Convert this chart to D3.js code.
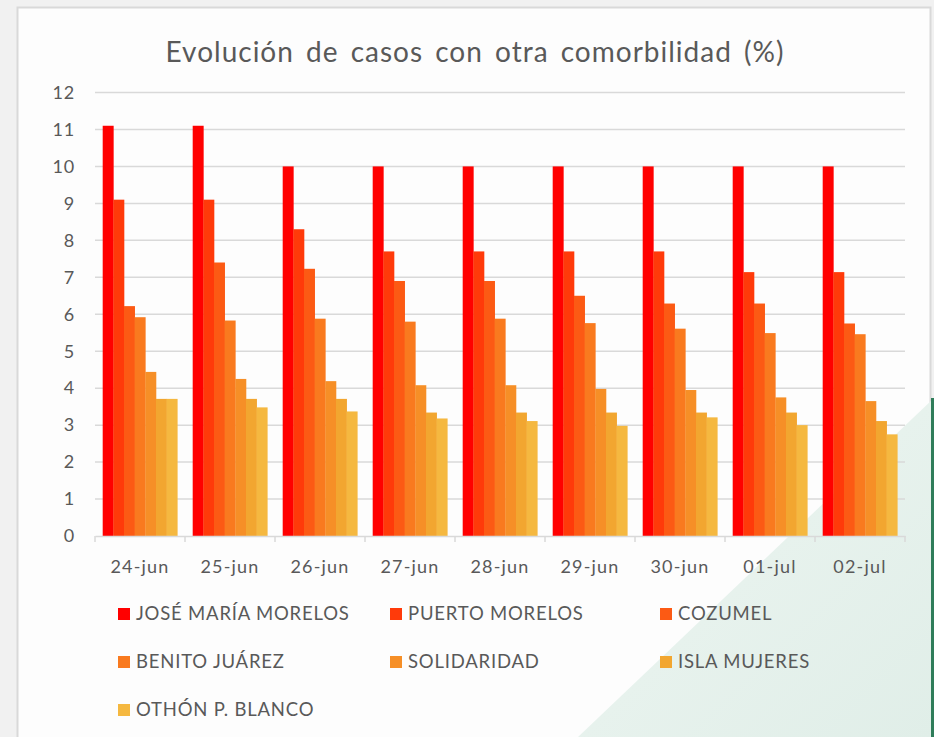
<!DOCTYPE html>
<html><head><meta charset="utf-8">
<script src="https://cdn.jsdelivr.net/npm/d3@7"></script>
<style>
html,body{margin:0;padding:0;background:#f1f1f1;}
svg{display:block;}
</style></head>
<body>
<svg id="c" width="934" height="737"></svg>
<script>
const dates = ["24-jun","25-jun","26-jun","27-jun","28-jun","29-jun","30-jun","01-jul","02-jul"];
const seriesNames = ["JOSÉ MARÍA MORELOS","PUERTO MORELOS","COZUMEL","BENITO JUÁREZ","SOLIDARIDAD","ISLA MUJERES","OTHÓN P. BLANCO"];
const seriesColors = ["#FF0000","#FF3A0A","#FC5A14","#F97A1F","#F68F27","#F2A630","#F5B840"];
const joseMariaMorelos = [11.1,11.1,10,10,10,10,10,10,10];
const puertoMorelos    = [9.1,9.1,8.3,7.7,7.7,7.7,7.7,7.14,7.14];
const cozumel          = [6.22,7.4,7.23,6.9,6.9,6.5,6.29,6.29,5.75];
const benitoJuarez     = [5.92,5.83,5.88,5.8,5.88,5.76,5.61,5.49,5.46];
const solidaridad      = [4.44,4.25,4.19,4.08,4.08,3.98,3.95,3.75,3.65];
const islaMujeres      = [3.71,3.71,3.71,3.34,3.34,3.34,3.34,3.34,3.11];
const othonPBlanco     = [3.71,3.48,3.37,3.18,3.11,2.98,3.21,3.0,2.75];
const yTicks = [0,1,2,3,4,5,6,7,8,9,10,11,12];
const values = [joseMariaMorelos,puertoMorelos,cozumel,benitoJuarez,solidaridad,islaMujeres,othonPBlanco];

(function(){
const svg = d3.select("#c");
const font = "Lato, 'Open Sans', sans-serif";

svg.append("rect").attr("x",0).attr("y",0).attr("width",934).attr("height",737).attr("fill","#f1f1f1");
svg.append("rect").attr("x",17.5).attr("y",7.5).attr("width",913).attr("height",740)
  .attr("fill","#fdfdfd").attr("stroke","#d9d9d9").attr("stroke-width",2);
const defs = svg.append("defs");
const gr = defs.append("linearGradient").attr("id","gg").attr("x1","0").attr("y1","0").attr("x2","1").attr("y2","1");
gr.append("stop").attr("offset","0").attr("stop-color","#eef6f2");
gr.append("stop").attr("offset","1").attr("stop-color","#e0eee8");
svg.append("path").attr("d","M934,398 L934,737 L578,737 Z").attr("fill","url(#gg)");
svg.append("rect").attr("x",931).attr("y",398).attr("width",3).attr("height",339).attr("fill","#2f7d5a");

const pLeft=95, pRight=905, pTop=92.5, pBottom=536;
const x0 = d3.scaleBand().domain(dates).range([pLeft,pRight]).padding(0);
const x1 = d3.scaleBand().domain(seriesNames).range([7.7, x0.bandwidth()-7.7]).padding(0);
const y = d3.scaleLinear().domain([0,12]).range([pBottom,pTop]);

svg.append("g").selectAll("line").data(yTicks.filter(d=>d>0)).join("line")
  .attr("x1",pLeft).attr("x2",pRight).attr("y1",d=>y(d)).attr("y2",d=>y(d))
  .attr("stroke","#d9d9d9").attr("stroke-width",1.5);

svg.append("g").selectAll("text").data(yTicks).join("text")
  .attr("x",75).attr("y",d=>y(d)).attr("dy","0.35em").attr("text-anchor","end")
  .attr("font-family",font).attr("font-size",18).attr("letter-spacing",0.8)
  .attr("fill","#595959").text(d=>d);

const groups = svg.append("g").selectAll("g").data(dates).join("g")
  .attr("transform",d=>`translate(${x0(d)},0)`);
groups.selectAll("rect").data((d,i)=>seriesNames.map((s,j)=>({s,j,v:values[j][i]}))).join("rect")
  .attr("x",d=>x1(d.s)).attr("width",x1.bandwidth()+0.3)
  .attr("y",d=>y(d.v)).attr("height",d=>pBottom-y(d.v))
  .attr("fill",d=>seriesColors[d.j]);

const xa = svg.append("g").attr("transform",`translate(0,${pBottom})`)
  .call(d3.axisBottom(x0).tickSize(0).tickPadding(0).tickFormat(""));
xa.select(".domain").attr("stroke","#d9d9d9").attr("stroke-width",1.5);
svg.append("g").selectAll("line").data(d3.range(dates.length+1)).join("line")
  .attr("x1",i=>pLeft+i*x0.step()).attr("x2",i=>pLeft+i*x0.step())
  .attr("y1",pBottom).attr("y2",pBottom+6).attr("stroke","#d9d9d9").attr("stroke-width",1.5);
svg.append("g").selectAll("text").data(dates).join("text")
  .attr("x",d=>x0(d)+x0.bandwidth()/2).attr("y",573).attr("text-anchor","middle")
  .attr("font-family",font).attr("font-size",18).attr("letter-spacing",1.2)
  .attr("fill","#595959").text(d=>d);

svg.append("text").attr("x",475).attr("y",62).attr("text-anchor","middle")
  .attr("font-family",font).attr("font-size",28).attr("letter-spacing",1).attr("word-spacing",4)
  .attr("fill","#595959")
  .text("Evolución de casos con otra comorbilidad (%)");

const colX=[118,390,660], rowY=[614,662,710];
const lg = svg.append("g").selectAll("g").data(seriesNames).join("g")
  .attr("transform",(d,i)=>`translate(${colX[i%3]},${rowY[Math.floor(i/3)]})`);
lg.append("rect").attr("x",0).attr("y",-6).attr("width",12).attr("height",12).attr("fill",(d,i)=>seriesColors[i]);
lg.append("text").attr("x",18).attr("y",0).attr("dy","0.35em")
  .attr("font-family",font).attr("font-size",18.5).attr("letter-spacing",0.8)
  .attr("fill","#595959").text(d=>d);
})();
</script>
</body></html>
